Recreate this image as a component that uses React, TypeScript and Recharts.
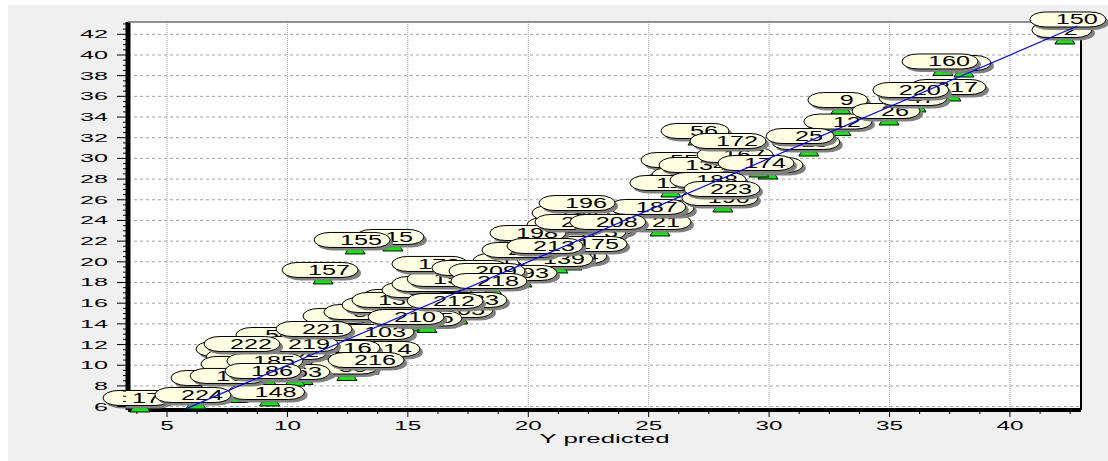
import { ScatterChart, Scatter, XAxis, YAxis, CartesianGrid, ReferenceLine } from 'recharts';

// observation numbers, drawn in this order (later labels sit on top)
const POINT_IDS = [
  2, 3, 9, 12, 15, 17, 19, 21, 25, 26, 40, 44, 47, 50, 51, 55, 56, 60, 62, 70, 72,
  78, 80, 87, 88, 89, 91, 92, 94, 98, 100, 103, 104, 105, 110, 114, 116, 118, 119, 120,
  123, 125, 130, 134, 139, 140, 144, 145, 148, 150, 152, 155, 157, 160, 163, 167, 168, 170, 172,
  174, 175, 178, 181, 182, 183, 185, 186, 187, 188, 190, 193, 194, 196, 198, 200, 206, 208, 209, 210, 212,
  213, 216, 217, 218, 219, 220, 221, 222, 223, 224,
];
const Y_PREDICTED = [
  42.28, 38.09, 32.98, 32.98, 14.38, 3.88, 31.65, 25.47, 31.41, 34.98, 6.7, 7.95, 36.1, 9.4, 7.74, 26.22, 27.05, 12.93, 8.16, 12.18, 10.65,
  7.95, 12.47, 25.59, 13.05, 23.1, 12.31, 17.08, 16.96, 26.55, 26.84, 13.8, 21.81, 17.08, 14.8, 14.05, 12.39, 19.41, 25.92, 13.97,
  22.6, 15.79, 14.38, 27.13, 21.23, 15.63, 21.65, 16.04, 9.26, 42.53, 16.67, 12.81, 11.48, 37.22, 10.31, 28.71, 7.66, 29.95, 28.42,
  29.58, 22.65, 16.04, 17.7, 10.19, 17.66, 9.19, 9.11, 25.09, 27.59, 28.08, 19.74, 21.86, 22.15, 20.11, 19.78, 21.98, 23.43, 18.41, 15.05, 16.67,
  20.82, 13.39, 37.55, 18.49, 10.65, 36.01, 11.23, 8.24, 28.17, 6.2,
];
const Y_OBSERVED = [
  41.64, 38.45, 34.87, 32.79, 21.63, 6.06, 30.81, 23.08, 31.39, 33.81, 7.99, 6.98, 35.07, 12.15, 10.8, 29.07, 31.88, 13.31, 10.02, 13.99, 8.72,
  9.35, 9.1, 24.43, 14.37, 22.5, 12.25, 18.44, 16.5, 27.33, 27.62, 12.44, 19.79, 14.57, 15.83, 10.8, 10.89, 19.31, 26.85, 15.05,
  22.11, 13.75, 15.54, 28.59, 19.5, 16.5, 22.79, 17.08, 6.64, 42.66, 17.57, 21.34, 18.44, 38.6, 8.57, 29.56, 8.19, 28.59, 30.91,
  28.78, 20.95, 19.02, 18.63, 10.51, 15.54, 9.64, 8.67, 24.53, 27.14, 25.4, 18.15, 23.95, 24.91, 22.01, 20.37, 23.08, 23.08, 18.34, 13.89, 15.44,
  20.76, 9.73, 36.13, 17.37, 11.28, 35.84, 12.73, 11.28, 26.27, 6.35,
];

const X_TICKS = [5, 10, 15, 20, 25, 30, 35, 40];
const Y_TICKS = [6, 8, 10, 12, 14, 16, 18, 20, 22, 24, 26, 28, 30, 32, 34, 36, 38, 40, 42];
const X_DOMAIN = [3.38, 42.95];
const Y_DOMAIN = [5.67, 43.19];
const DIAGONAL = [5.8, 42.8];

function minorTicks(major: number[], parts: number, lo: number, hi: number) {
  const step = (major[1] - major[0]) / parts;
  let v = major[0];
  while (v - step >= lo) v -= step;
  const out: number[] = [];
  for (; v <= hi; v += step) out.push(Math.round(v * 1000) / 1000);
  return out;
}

const X_ALL = minorTicks(X_TICKS, 4, X_DOMAIN[0], X_DOMAIN[1]);
const Y_ALL = minorTicks(Y_TICKS, 4, Y_DOMAIN[0], Y_DOMAIN[1]);

const points = POINT_IDS.map((id, i) => ({ id, x: Y_PREDICTED[i], y: Y_OBSERVED[i] }));
const diagonal = DIAGONAL.map((v) => ({ x: v, y: v }));

const FONT = "'Liberation Sans', Arial, sans-serif";

function XTick(props: any) {
  const { x, y, payload } = props;
  const major = X_TICKS.includes(payload.value);
  const label = String(payload.value);
  return (
    <g>
      <line x1={x} x2={x} y1={y + 2} y2={y + (major ? 7 : 4)} stroke="#000" strokeWidth={1} />
      {major && (
        <text x={x} y={y + 20} textAnchor="middle" fontSize={12.5} fontFamily={FONT} fill="#000"
          textLength={13.5 * label.length} lengthAdjust="spacingAndGlyphs">
          {label}
        </text>
      )}
    </g>
  );
}

function YTick(props: any) {
  const { x, y, payload } = props;
  const major = Y_TICKS.includes(payload.value);
  const label = String(payload.value);
  return (
    <g>
      <line x1={x - 2} x2={x - (major ? 11 : 5)} y1={y} y2={y} stroke="#000" strokeWidth={1} />
      {major && (
        <text x={x - 20} y={y + 4} textAnchor="end" fontSize={11.5} fontFamily={FONT} fill="#000"
          textLength={14 * label.length} lengthAdjust="spacingAndGlyphs">
          {label}
        </text>
      )}
    </g>
  );
}

function Marker(props: any) {
  const { cx, cy } = props;
  return (
    <path
      d={`M${cx - 10},${cy + 6} L${cx + 10},${cy + 6} L${cx},${cy - 10} Z`}
      fill="#00f000"
      stroke="#000"
      strokeWidth={1}
    />
  );
}

function Bubble(props: any) {
  const { cx, cy, payload } = props;
  const label = String(payload.id);
  const w = 52 + 8 * label.length;
  const h = 15;
  const left = cx - 3 - w / 2;
  const top = cy - 8 - h / 2;
  return (
    <g>
      <rect x={left + 3} y={top + 3} width={w} height={h} rx={16} ry={7.5} fill="#808080" />
      <rect x={left} y={top} width={w} height={h} rx={16} ry={7.5} fill="#ffffe1" stroke="#000" strokeWidth={1} />
      <text x={cx + 6} y={cy - 3} textAnchor="middle" fontSize={14} fontFamily={FONT} fill="#000"
        textLength={14 * label.length} lengthAdjust="spacingAndGlyphs">
        {label}
      </text>
    </g>
  );
}

function AxisTitle(props: any) {
  const vb = props.viewBox || {};
  return (
    <text x={vb.x + vb.width / 2} y={vb.y + 33} textAnchor="middle" fontSize={13} fontFamily={FONT} fill="#000"
      textLength={130} lengthAdjust="spacingAndGlyphs">
      Y predicted
    </text>
  );
}

export default function App() {
  return (
    <div style={{ position: 'absolute', left: 0, top: 0, width: 1108, height: 461, background: '#fff' }}>
      <div style={{ position: 'absolute', left: 8, top: 5, width: 1100, height: 456, background: '#f0f0f0' }}>
        <ScatterChart width={1100} height={456} margin={{ top: 17, right: 27, bottom: 11, left: 60 }}>
          <CartesianGrid
            fill="#fff"
            vertical={false}
            horizontalValues={Y_TICKS}
            stroke="#a0a0a0"
            strokeDasharray="3 3"
          />
          <CartesianGrid
            horizontal={false}
            verticalValues={X_TICKS}
            stroke="#a0a0a0"
            strokeDasharray="1 1"
          />
          <XAxis
            type="number"
            dataKey="x"
            domain={X_DOMAIN}
            ticks={X_ALL}
            interval={0}
            tick={XTick}
            tickLine={false}
            tickSize={0}
            tickMargin={0}
            height={40}
            axisLine={{ stroke: '#000', strokeWidth: 4 }}
            label={AxisTitle}
          />
          <YAxis
            type="number"
            dataKey="y"
            domain={Y_DOMAIN}
            ticks={Y_ALL}
            interval={0}
            tick={YTick}
            tickLine={false}
            tickSize={0}
            tickMargin={0}
            width={60}
            axisLine={false}
          />
          <ReferenceLine x={X_DOMAIN[0]} stroke="#000" strokeWidth={5} />
          <ReferenceLine y={Y_DOMAIN[1]} stroke="#6e6e6e" strokeWidth={1.5} />
          <ReferenceLine x={X_DOMAIN[1]} stroke="#000" strokeWidth={2} />
          <Scatter data={points} shape={Marker} isAnimationActive={false} />
          <Scatter data={points} shape={Bubble} isAnimationActive={false} />
          <Scatter
            data={diagonal}
            line={{ stroke: '#0000ff', strokeWidth: 1.2 }}
            lineType="joint"
            shape={() => <g />}
            isAnimationActive={false}
          />
        </ScatterChart>
      </div>
    </div>
  );
}
